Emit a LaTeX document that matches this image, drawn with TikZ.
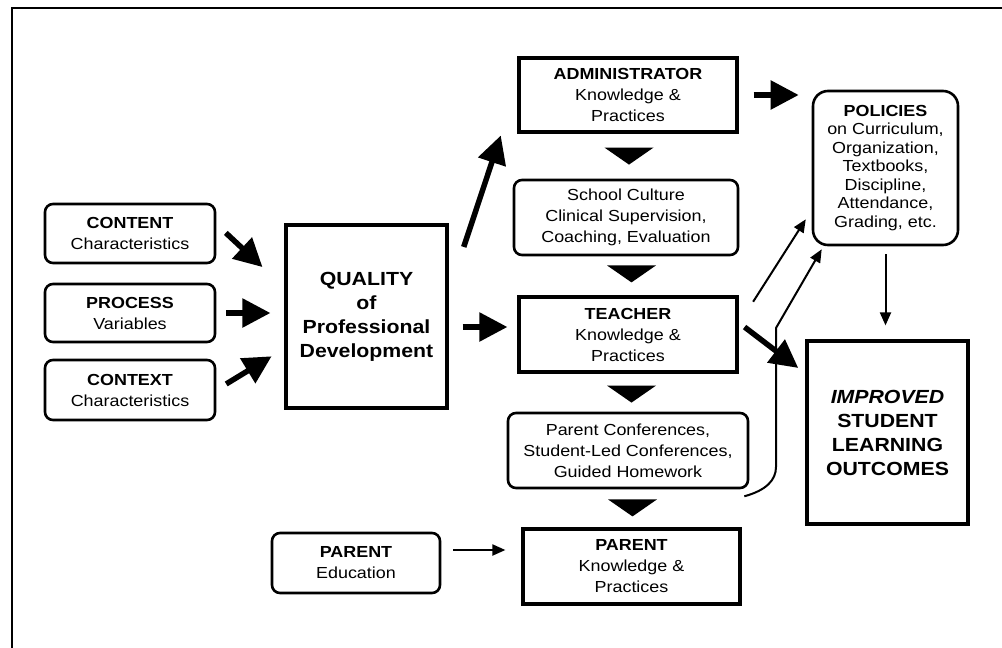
\documentclass[tikz,border=0pt]{standalone}
\usepackage{fontspec}
\setmainfont[FakeStretch=1.12]{Liberation Sans}
\usepackage{tikz}
\usetikzlibrary{arrows.meta,calc}
\tikzstyle{sbox}=[draw, line width=3.2pt, inner sep=0pt, align=center, font=\fontsize{16}{21}\selectfont]
\tikzstyle{rbox}=[draw, line width=2.6pt, rounded corners=8pt, inner sep=0pt, align=center, font=\fontsize{16}{21}\selectfont]
\tikzstyle{bigarr}=[line width=5.5pt, -{Triangle[length=28pt,width=28pt]}]
\tikzstyle{thinarr}=[line width=2pt, -{Triangle[length=13pt,width=11pt]}]
\newcommand\flowtri[1]{\fill #1 ++(-24.5,0) -- ++(49,0) -- ++(-24.5,17) -- cycle;}

\begin{document}
\begin{tikzpicture}[x=1pt,y=-1pt]
				\useasboundingbox (0,0) rectangle (1002,648);
				\draw[line width=2pt] (12,648) -- (12,8) -- (1002,8);

				\node[rbox, minimum width=170pt, minimum height=59pt] (content) at (130,233.5) {\textbf{CONTENT}\\Characteristics};
				\node[rbox, minimum width=170pt, minimum height=58pt] (process) at (130,313) {\textbf{PROCESS}\\Variables};
				\node[rbox, minimum width=170pt, minimum height=60pt] (context) at (130,390) {\textbf{CONTEXT}\\Characteristics};
				\node[sbox, minimum width=161pt, minimum height=183pt, font=\fontsize{19}{24}\selectfont\bfseries] (quality) at (366.5,316.5) {QUALITY\\of\\Professional\\Development};
				\node[sbox, minimum width=218pt, minimum height=74pt] (admin) at (628,95) {\textbf{ADMINISTRATOR}\\Knowledge \&\\Practices};
				\node[rbox, minimum width=224pt, minimum height=75pt] (school) at (626,217.5) {School Culture\\Clinical Supervision,\\Coaching, Evaluation};
				\node[sbox, minimum width=218pt, minimum height=75pt] (teacher) at (628,334.5) {\textbf{TEACHER}\\Knowledge \&\\Practices};
				\node[rbox, minimum width=240pt, minimum height=75pt] (parconf) at (628,450.5) {Parent Conferences,\\Student-Led Conferences,\\Guided Homework};
				\node[sbox, minimum width=217pt, minimum height=75pt] (parentk) at (631.5,566.5) {\textbf{PARENT}\\Knowledge \&\\Practices};
				\node[rbox, minimum width=168pt, minimum height=60pt] (parented) at (356,563) {\textbf{PARENT}\\Education};
				\node[rbox, rounded corners=15pt, minimum width=145pt, minimum height=154pt, font=\fontsize{16}{18.5}\selectfont] (policies) at (885.5,168) {\textbf{POLICIES}\\on Curriculum,\\Organization,\\Textbooks,\\Discipline,\\Attendance,\\Grading, etc.};
				\node[sbox, minimum width=161pt, minimum height=183pt, font=\fontsize{19}{24}\selectfont\bfseries] (improved) at (887.5,432.5) {\textit{IMPROVED}\\STUDENT\\LEARNING\\OUTCOMES};

				\coordinate (kink) at (776,328);
				\coordinate (bend) at (776,467);

				\draw[bigarr, shorten <=13pt, shorten >=30pt] ([yshift=9.5pt]content.east) -- ([yshift=29pt]quality.west);
				\draw[bigarr, shorten <=10pt, shorten >=14pt] (process.east) -- (process.east -| quality.west);
				\draw[bigarr, shorten <=11.6pt, shorten >=15pt] (context.east) -- ([yshift=-32pt]quality.west);
				\draw[bigarr, shorten <=48pt, shorten >=2pt] ([yshift=24pt]quality.east) -- ([xshift=-16pt]admin.south west);
				\draw[bigarr, shorten <=14pt, shorten >=10pt] ([yshift=-10.5pt]quality.east) -- ([yshift=7.5pt]teacher.west);
				\draw[bigarr, shorten <=15pt, shorten >=13pt] (admin.east) -- (admin.east -| policies.west);
				\draw[bigarr, shorten <=7.5pt, shorten >=9pt] ([yshift=12pt]teacher.east) -- ([yshift=-34pt]improved.north west);

				\draw[thinarr, shorten <=27pt, shorten >=11pt] ([yshift=10pt]teacher.east) -- ([yshift=-42pt]policies.west);
				\draw[thinarr] ([xshift=-5pt,yshift=-7pt]parconf.south east) .. controls +(22,-6) and +(0,13) .. (bend) -- (kink) -- ([xshift=10pt,yshift=-3pt]policies.south west);
				\draw[thinarr, shorten <=8pt, shorten >=14pt] (policies.south) -- (policies.south |- improved.north);
				\draw[thinarr, shorten <=12pt, shorten >=16pt] ([yshift=13pt]parented.east) -- ([yshift=13pt]parented.east -| parentk.west);

				\flowtri{($(admin.south)+(1,14)$)}
				\flowtri{($(teacher.north)+(3.5,-30)$)}
				\flowtri{($(teacher.south)+(3.5,12)$)}
				\flowtri{($(parentk.north)+(1,-28)$)}
			\end{tikzpicture}
\end{document}
